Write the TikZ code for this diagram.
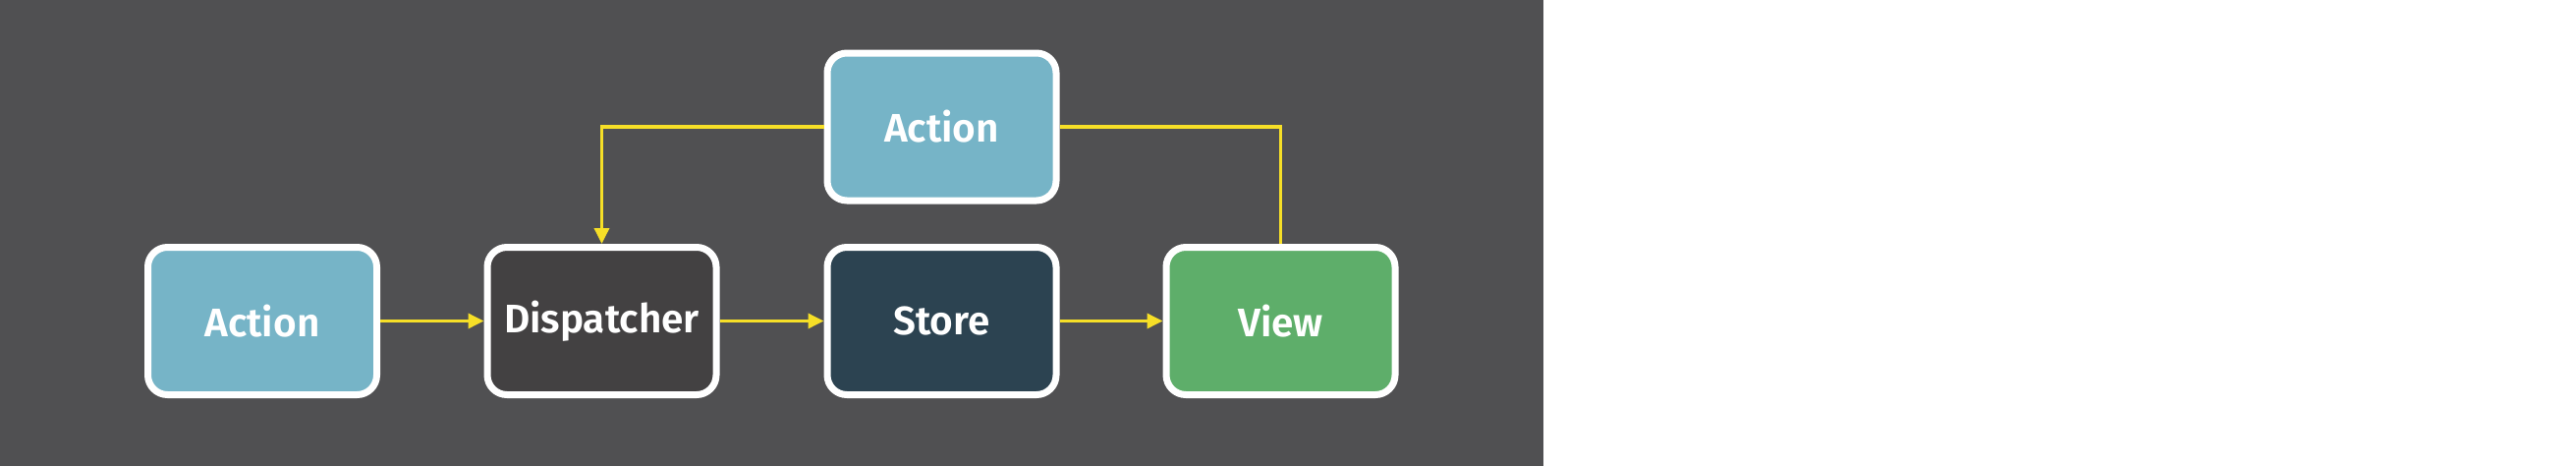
\documentclass[tikz,border=0pt]{standalone}
\usepackage{fontspec}
\setmainfont{Fira Sans}[BoldFont={* SemiBold}]
\usetikzlibrary{arrows.meta}
\definecolor{bgc}{HTML}{505052}
\definecolor{actc}{HTML}{76B4C7}
\definecolor{disc}{HTML}{434142}
\definecolor{stoc}{HTML}{2C4351}
\definecolor{vic}{HTML}{5EAE6A}
\definecolor{yel}{HTML}{F6DF27}
\begin{document}
\begin{tikzpicture}[x=1pt,y=-1pt,
  box/.style={draw=white, line width=7pt, rounded corners=20pt,
    minimum width=233pt, minimum height=150pt, inner sep=0pt,
    text=white, font=\fontsize{40.5pt}{42pt}\selectfont\bfseries},
  flow/.style={draw=yel, line width=3.5pt, -{Triangle[length=16pt,width=15pt]}},
  link/.style={draw=yel, line width=3.5pt}]
\useasboundingbox (0,0) rectangle (2622,474);
\fill[white] (0,0) rectangle (2622,474);
\fill[bgc] (0,0) rectangle (1571,474);
\node[box, fill=actc] (a1) at (267,326.5) {Action};
\node[box, fill=disc] (d) at (612.5,326.5) {Dispatcher};
\node[box, fill=stoc] (s) at (958.5,326.5) {Store};
\node[box, fill=vic] (v) at (1303.5,326.5) {View};
\node[box, fill=actc] (a2) at (958.5,129) {Action};
\draw[flow] (a1.east) -- (d.west);
\draw[flow] (d.east) -- (s.west);
\draw[flow] (s.east) -- (v.west);
\draw[flow] (a2.west) -| (d.north);
\draw[link] (a2.east) -| (v.north);
\end{tikzpicture}
\end{document}
